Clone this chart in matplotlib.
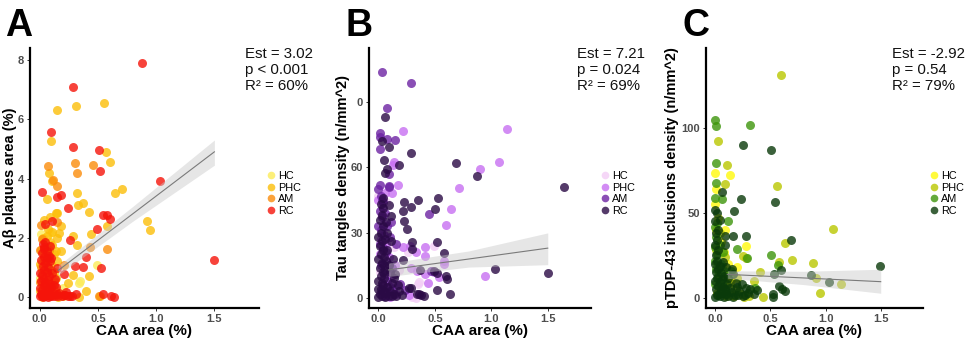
import matplotlib
matplotlib.use("Agg")
import matplotlib.pyplot as plt
from matplotlib.lines import Line2D

plt.rcParams['font.family'] = ['Liberation Sans', 'DejaVu Sans']

groups = ["HC", "PHC", "AM", "RC"]

# ---------------- Panel A: Abeta plaques area vs CAA area ----------------
abeta_hc = [(0.01,2.14),(0.09,2.17),(0.49,1.07),(0.34,0.47),(0.345,0.55),(0.17,0.11),(0.115,0.50),
            (0.086,2.20),(0.00,0.65),(0.03,1.30),(0.06,0.25),(0.10,0.75),(0.13,0.15),(0.02,0.00),
            (0.08,1.50),(0.20,0.30)]
abeta_phc = [(0.15,6.31),(0.31,6.45),(0.55,6.54),(0.10,5.26),(0.57,4.88),(0.60,4.56),(0.08,4.18),
             (0.11,3.91),(0.32,3.52),(0.37,3.17),(0.33,3.12),(0.645,3.52),(0.71,3.65),(0.06,3.30),
             (0.42,2.88),(0.15,2.84),(0.92,2.57),(0.95,2.25),(0.575,2.40),(0.18,2.40),(0.44,2.14),
             (0.29,2.07),(0.32,1.75),(0.15,2.00),(0.11,2.20),(0.18,1.55),(0.42,0.70),(0.29,0.74),
             (0.24,0.47),(0.52,0.05),(0.34,0.00),(0.40,0.21),(0.086,2.71),(0.144,2.85),(0.17,2.15),
             (0.16,0.00),(0.20,0.02),
             (0.00,0.20),(0.02,0.45),(0.05,0.70),(0.08,0.95),(0.10,1.10),(0.12,1.45),(0.14,1.55),
             (0.01,1.60),(0.03,2.00),(0.06,2.05),(0.09,1.85),(0.12,0.85),(0.14,0.65),(0.13,0.25),
             (0.10,0.50),(0.07,1.45),(0.00,1.10),(0.02,0.90),(0.11,1.75),(0.15,1.20),(0.07,2.30),
             (0.04,2.60)]
abeta_am = [(0.07,4.43),(0.30,4.53),(0.46,4.47),(0.32,4.17),(0.15,3.75),(0.575,1.62),(0.43,1.69),
            (0.21,1.07),(0.15,2.52),(0.01,2.42),(0.51,0.05),(0.115,3.95),
            (0.00,1.59),(0.02,1.95),(0.04,1.40),(0.01,1.00),(0.03,0.70),(0.05,0.35),(0.00,0.50),
            (0.06,1.10),(0.08,1.60),(0.10,0.90),(0.02,0.15),(0.04,1.20),(0.09,0.20),(0.12,0.55)]
abeta_rc = [(0.875,7.89),(0.29,7.08),(0.10,5.57),(0.29,5.05),(0.51,4.97),(0.52,4.24),(1.03,3.91),
            (0.02,3.55),(0.15,3.38),(0.18,3.43),(0.24,2.99),(0.545,2.78),(0.58,2.78),(0.60,2.63),
            (0.11,2.57),(0.05,2.47),(0.49,2.31),(0.26,1.93),(0.09,1.72),(0.40,1.36),(1.50,1.25),
            (0.37,1.01),(0.30,1.05),(0.53,0.98),(0.15,0.98),(0.21,0.79),(0.545,0.11),(0.61,0.05),
            (0.64,0.00),(0.23,0.17),(0.31,0.09),(0.22,0.08),(0.26,0.03),(0.17,0.12),
            (0.00,0.02),(0.01,0.10),(0.02,0.05),(0.03,0.00),(0.04,0.15),(0.05,0.03),(0.06,0.08),
            (0.07,0.01),(0.08,0.12),(0.09,0.04),(0.10,0.06),(0.11,0.02),(0.12,0.10),(0.13,0.03),
            (0.00,0.30),(0.02,0.25),(0.04,0.40),(0.06,0.32),(0.08,0.28),(0.10,0.35),(0.01,0.55),
            (0.03,0.62),(0.05,0.50),(0.07,0.58),(0.09,0.45),(0.12,0.40),(0.00,0.80),(0.02,0.75),
            (0.04,0.90),(0.06,0.85),(0.08,0.70),(0.03,1.05),(0.05,1.15),(0.07,1.00),(0.01,1.25),
            (0.04,1.35),(0.06,1.30),(0.09,1.20),(0.02,1.50),(0.04,1.62),(0.06,1.55),(0.03,1.80),
            (0.05,1.85),(0.04,1.70),(0.08,1.40),(0.10,1.30),(0.11,0.80),(0.13,0.60),(0.14,0.35),
            (0.15,0.10),(0.16,0.05),(0.19,0.02),(0.21,0.06),(0.24,0.05),(0.28,0.04)]
abeta_fit_x = [0.16, 0.80, 1.50]
abeta_fit_y = [0.90, 2.81, 4.90]
abeta_fit_lo = [0.74, 2.56, 4.45]
abeta_fit_hi = [1.06, 3.06, 5.30]
abeta_stats = ["Est = 3.02", "p < 0.001", "R\u00b2 = 60%"]

# ---------------- Panel B: Tau tangles density vs CAA area ----------------
tau_hc = [(0.36,7.2),(0.49,23.8),(0.14,23.5),(0.26,21.0),(0.35,6.6),(0.33,0.0),(0.00,47),(0.02,38),
          (0.04,30),(0.01,12),(0.06,5),(0.09,26),(0.12,1),(0.07,44),(0.30,0.5),(0.18,13)]
tau_phc = [(0.22,76.5),(0.14,62.4),(0.13,61.0),(0.17,51.8),(0.71,50.6),(1.14,77.6),(1.07,62.5),
           (0.90,59.4),(0.64,40.9),(0.60,33.6),(0.41,23.5),(0.22,23.2),(0.58,16.9),(0.41,19.2),
           (0.945,10.0),(0.44,6.9),(0.49,12.0),(0.28,24.0),(0.33,21.0),(0.29,14.0),(0.34,12.5),
           (0.41,11.0),(0.54,9.7),(0.27,1.3),(0.16,2.0),(0.12,48),(0.58,15.8),
           (0.00,45),(0.03,42),(0.05,34),(0.02,27),(0.07,25),(0.09,19),(0.11,10),(0.04,6),(0.08,2),
           (0.13,7),(0.15,15),(0.06,48),(0.01,20),(0.10,0.5)]
tau_am = [(0.035,103.7),(0.29,98.6),(0.075,87.1),(0.015,75.7),(0.015,74.1),(0.075,73.2),(0.15,72.4),
          (0.01,68.6),(0.09,56.8),(0.015,52.1),(0.095,51.4),(0.45,38.6),(0.16,24.8),(0.47,12.6),
          (0.19,6.6),(0.24,3.5),
          (0.00,50),(0.02,47),(0.04,44),(0.01,40),(0.03,37),(0.06,39),(0.00,33),(0.02,31),(0.05,29),
          (0.08,33),(0.10,28),(0.01,25),(0.04,23),(0.07,21),(0.02,15),(0.05,11),(0.08,8),(0.10,5),
          (0.03,3),(0.06,1),(0.13,4),(0.12,14),(0.11,35),(0.03,45),(0.09,51)]
tau_rc = [(0.06,83.2),(0.03,71.9),(0.095,69.2),(0.29,66.5),(0.053,63.4),(0.18,60.9),(0.69,62.2),
          (0.075,59.1),(0.06,57.5),(0.87,56.2),(1.64,50.8),(0.53,45.8),(0.35,45.2),(0.23,44.0),
          (0.29,41.7),(0.50,40.9),(0.215,40.1),(0.23,35.5),(0.25,31.7),(0.30,25.5),(0.30,22.7),
          (0.52,25.5),(0.58,20.6),(0.22,17.5),(0.37,12.8),(0.515,11.6),(0.60,10.0),(0.61,8.5),
          (1.03,13.5),(1.50,11.5),(0.49,12.4),(0.29,4.8),(0.52,3.5),(0.63,2.0),(0.38,1.3),(0.34,2.0),
          (0.21,1.3),(0.14,9.0),(0.27,4.8),(0.40,0.8),(0.36,2.0),
          (0.00,0.5),(0.01,2),(0.02,4),(0.03,1),(0.04,6),(0.05,3),(0.06,0.5),(0.07,2.5),(0.08,5),
          (0.09,1),(0.10,3),(0.12,0.8),(0.14,2),(0.16,1),(0.18,3),(0.00,8),(0.02,10),(0.04,12),
          (0.01,14),(0.03,16),(0.05,9),(0.06,13),(0.00,18),(0.02,20),(0.04,22),(0.01,24),(0.03,26),
          (0.05,19),(0.07,17),(0.00,28),(0.02,30),(0.04,33),(0.01,36),(0.03,38),(0.06,27),(0.08,22),
          (0.10,12),(0.12,7),(0.09,15),(0.00,4),(0.03,7),(0.05,15),(0.02,43),(0.04,46),(0.07,35),
          (0.09,42.9),(0.045,41.5),(0.115,37.8),(0.11,26),(0.13,18),(0.15,11),(0.17,6),(0.08,30)]
tau_fit_x = [0.09, 0.80, 1.50]
tau_fit_y = [12.9, 17.9, 22.9]
tau_fit_lo = [9.9, 14.2, 15.3]
tau_fit_hi = [16.0, 21.6, 29.9]
tau_stats = ["Est = 7.21", "p = 0.024", "R\u00b2 = 69%"]

# ---------------- Panel C: pTDP-43 inclusions density vs CAA area ----------------
tdp_hc = [(0.00,73.5),(0.13,72.5),(0.01,64.1),(0.28,30.6),(0.195,18.2),(0.00,55),(0.03,47),(0.01,40),
          (0.05,33),(0.08,27),(0.12,20),(0.15,16),(0.04,12),(0.07,7),(0.14,10),(0.17,1),(0.09,40)]
tdp_phc = [(0.60,131),(0.03,92.4),(0.11,78.4),(0.085,67.3),(0.56,65.7),(0.635,32.5),(1.07,40.8),
           (0.25,24.5),(0.70,22.5),(0.575,21.2),(0.89,20.8),(0.915,11.8),(1.14,8.4),(0.95,2.9),
           (0.43,0.6),(0.31,1.0),(0.35,9.8),(0.41,15.3),(0.28,23.3),
           (0.02,3),(0.05,6),(0.08,10),(0.11,14),(0.13,9),(0.15,2),(0.18,5),(0.20,12),(0.06,18),
           (0.09,24),(0.01,28),(0.04,38),(0.10,1),(0.23,2.5),(0.26,0.5)]
tdp_am = [(0.00,104.9),(0.01,101),(0.32,102),(0.01,79.6),(0.01,67.6),(0.00,59),(0.065,58),(0.12,45.3),
          (0.20,29),(0.29,23.7),(0.51,25.1),(0.57,19.2),(0.36,6.1),(0.14,15.9),
          (0.00,42),(0.01,36),(0.00,30),(0.02,26),(0.00,22),(0.01,17),(0.03,13),(0.00,8),(0.05,20),
          (0.04,31),(0.02,44),(0.06,9),(0.08,16),(0.10,4),(0.03,2),(0.07,27)]
tdp_rc = [(0.25,89.8),(0.505,87.3),(0.065,62.2),(0.23,58.4),(0.54,56.5),(0.00,52.0),(0.17,51.0),
          (0.165,36.3),(0.28,36.5),(0.69,33.9),(0.60,16.3),(1.49,18.6),(0.87,13.7),(1.03,9.4),
          (0.58,6.9),(0.63,3.9),(0.61,5.5),(0.535,13.9),(0.52,2.5),(0.52,0.6),(0.28,6.1),(0.20,6.5),
          (0.165,13.9),(0.15,17.3),(0.38,4.5),(0.35,2.5),(0.21,1.6),(0.25,1.0),
          (0.00,0.5),(0.02,2),(0.04,1),(0.06,3),(0.08,0.8),(0.10,2.5),(0.12,1.2),(0.14,3.5),(0.16,0.6),
          (0.18,2),(0.01,5),(0.03,7),(0.05,4.5),(0.07,6.5),(0.09,5),(0.11,8),(0.13,6),(0.00,10),
          (0.02,12),(0.04,9.5),(0.06,11),(0.08,13),(0.01,15),(0.03,17),(0.05,14.5),(0.00,20),
          (0.02,22),(0.04,19),(0.01,25),(0.03,28),(0.00,31),(0.02,34),(0.01,38),(0.03,40),(0.00,45),
          (0.045,45.9),(0.02,49.8),(0.09,36.5),(0.09,31.2),(0.07,21),(0.10,18),(0.12,12),(0.22,4),
          (0.24,8),(0.27,1.5),(0.30,3),(0.32,5),(0.19,9)]
tdp_fit_x = [0.11, 0.80, 1.50]
tdp_fit_y = [13.9, 11.8, 9.6]
tdp_fit_lo = [11.6, 7.9, 2.8]
tdp_fit_hi = [16.0, 15.7, 16.9]
tdp_stats = ["Est = -2.92", "p = 0.54", "R\u00b2 = 79%"]

W, H = 969, 339
fig = plt.figure(figsize=(W / 100, H / 100), dpi=100)


def fx(px):
    return px / W


def fy(py):
    return 1 - py / H


panels = [
    dict(letter="A", data=[abeta_hc, abeta_phc, abeta_am, abeta_rc],
         colors=["#FCEC59", "#FCBE08", "#FB8C0B", "#F5140A"],
         fit=(abeta_fit_x, abeta_fit_y, abeta_fit_lo, abeta_fit_hi), stats=abeta_stats,
         ylabel="A\u03b2 plaques area (%)", yticks=[0, 2, 4, 6, 8], yticklabels=["0", "2", "4", "6", "8"],
         ylim=(-0.371, 8.405), box=(30, 259), letter_x=5, ylabel_x=10, stats_x=245,
         leg_x=267),
    dict(letter="B", data=[tau_hc, tau_phc, tau_am, tau_rc],
         colors=["#F3CDF6", "#C76FF2", "#6D23A3", "#2A0A45"],
         fit=(tau_fit_x, tau_fit_y, tau_fit_lo, tau_fit_hi), stats=tau_stats,
         ylabel="Tau tangles density (n/mm^2)", yticks=[0, 30, 60, 90], yticklabels=["0", "30", "60", "0"],
         ylim=(-4.59, 114.8), box=(369, 591), letter_x=346, ylabel_x=343, stats_x=577,
         leg_x=601),
    dict(letter="C", data=[tdp_hc, tdp_phc, tdp_am, tdp_rc],
         colors=["#FFF90B", "#BAC700", "#3D950B", "#0A3A0A"],
         fit=(tdp_fit_x, tdp_fit_y, tdp_fit_lo, tdp_fit_hi), stats=tdp_stats,
         ylabel="pTDP-43 inclusions density (n/mm^2)", yticks=[0, 50, 100], yticklabels=["0", "50", "100"],
         ylim=(-5.88, 147.0), box=(706, 923), letter_x=683, ylabel_x=672, stats_x=892,
         leg_x=930),
]

top_px, bottom_px = 48, 308
for p in panels:
    left, right = p["box"]
    ax = fig.add_axes([fx(left), fy(bottom_px), (right - left) / W, (bottom_px - top_px) / H])
    for pts, col, name in zip(p["data"], p["colors"], groups):
        xs = [v[0] for v in pts]
        ys = [v[1] for v in pts]
        ax.scatter(xs, ys, s=42, color=col, alpha=0.8, linewidths=0, zorder=2, label=name)
    fx_, fy_, flo, fhi = p["fit"]
    ax.fill_between(fx_, flo, fhi, color="#C8C8C8", alpha=0.45, linewidth=0, zorder=3)
    ax.plot(fx_, fy_, color="#7A7A7A", linewidth=0.8, zorder=4)

    ax.set_xlim(-0.083, 1.883)
    ax.set_ylim(*p["ylim"])
    ax.set_xticks([0, 0.5, 1.0, 1.5])
    ax.set_xticklabels(["0.0", "0.5", "1.0", "1.5"])
    ax.set_yticks(p["yticks"])
    ax.set_yticklabels(p["yticklabels"])
    for side in ("top", "right"):
        ax.spines[side].set_visible(False)
    for side in ("left", "bottom"):
        ax.spines[side].set_linewidth(1.6)
        ax.spines[side].set_color("black")
    ax.tick_params(axis="both", length=2.5, width=0.7, color="#333333", pad=2,
                   labelsize=8, labelcolor="#4D4D4D")
    for lab in ax.get_xticklabels() + ax.get_yticklabels():
        lab.set_fontweight("bold")

    # panel letter
    fig.text(fx(p["letter_x"]), fy(36), p["letter"], fontsize=27, fontweight="bold",
             ha="left", va="baseline")
    # axis labels
    fig.text(fx((left + right) / 2), fy(331), "CAA area (%)", fontsize=11, fontweight="bold",
             ha="center", va="center")
    fig.text(fx(p["ylabel_x"]), fy((top_px + bottom_px) / 2), p["ylabel"], fontsize=10.5,
             fontweight="bold", rotation=90, ha="center", va="center")
    # model statistics
    for i, line in enumerate(p["stats"]):
        fig.text(fx(p["stats_x"]), fy(57.5 + 16.4 * i), line, fontsize=10.8,
                 ha="left", va="baseline", color="#111111")
    # legend
    handles = [Line2D([0], [0], marker="o", linestyle="none", markersize=5.5,
                      markerfacecolor=c, markeredgewidth=0, alpha=0.8) for c in p["colors"]]
    fig.legend(handles, groups, loc="upper left", bbox_to_anchor=(fx(p["leg_x"]), fy(171)),
               frameon=False, fontsize=7.8, handlelength=0.7, handletextpad=0.35,
               labelspacing=0.15, borderpad=0, borderaxespad=0)

fig.savefig("out.png", dpi=100)
